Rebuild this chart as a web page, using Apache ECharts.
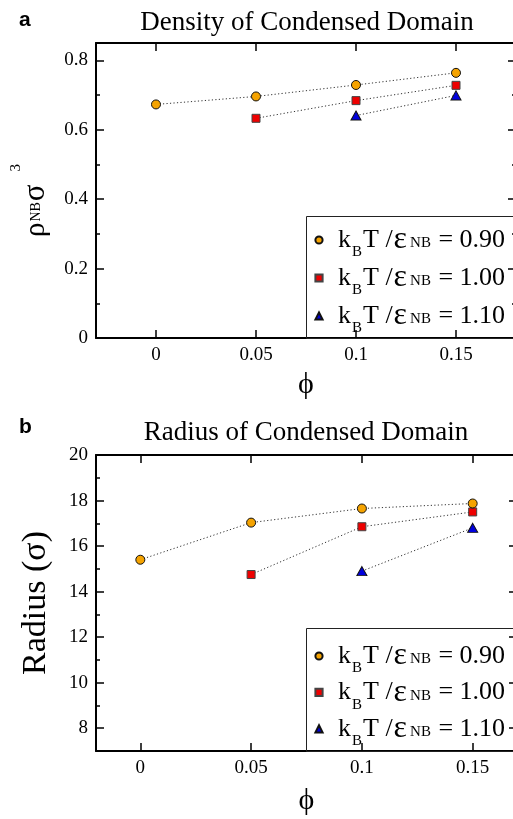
<!DOCTYPE html>
<html><head><meta charset="utf-8">
<script src="https://cdn.jsdelivr.net/npm/echarts@6.0.0/dist/echarts.min.js"></script>
<style>html,body{margin:0;padding:0;background:#fff}#c{width:513px;height:819px}</style>
</head><body><div id="c"></div>
<script>
// ---- data ----
const phi = [0, 0.05, 0.1, 0.15];
const seriesNames = ['0.90', '1.00', '1.10'];
const densityT090 = [0.673, 0.696, 0.729, 0.764];
const densityT100 = [null, 0.633, 0.684, 0.728];
const densityT110 = [null, null, 0.641, 0.699];
const radiusT090 = [15.4, 17.03, 17.65, 17.87];
const radiusT100 = [null, 14.75, 16.85, 17.5];
const radiusT110 = [null, null, 14.9, 16.8];
const xTicks = [0, 0.05, 0.1, 0.15];
const yTicksA = [0, 0.2, 0.4, 0.6, 0.8];
const yMinorA = [0.1, 0.3, 0.5, 0.7];
const yTicksB = [8, 10, 12, 14, 16, 18, 20];
const yMinorB = [9, 11, 13, 15, 17, 19];
const titleA = 'Density of Condensed Domain';
const titleB = 'Radius of Condensed Domain';

// ---- styling ----
const SERIF = '"Liberation Serif", "Times New Roman", serif';
const SANS = '"Liberation Sans", Arial, sans-serif';
const colors = ['#F5A300', '#EE0000', '#0000DD'];
const symbols = ['circle', 'rect', 'triangle'];
const symSizes = [9, 8, [10, 9]];
const borders = ['#111', '#444', '#111'];

function pairs(xs, ys) {
  return xs.map((x, i) => ys[i] == null ? null : [x, ys[i]]).filter(p => p);
}

const axisLine = { show: true, onZero: false, lineStyle: { color: '#000', width: 2 } };
const noLine = { show: false, onZero: false };
const tickStyle = { color: '#000', width: 1.5 };
const labelStyle = { fontFamily: SERIF, fontSize: 19, color: '#000' };

function xMain(grid, min, max, pos, withLabel, nameGap) {
  const a = {
    type: 'value', gridIndex: grid, min: min, max: max, position: pos,
    axisLine: axisLine, splitLine: { show: false },
    axisTick: { show: true, inside: true, length: 8, customValues: xTicks, lineStyle: tickStyle },
    axisLabel: withLabel ? Object.assign({ show: true, margin: 8, customValues: xTicks }, labelStyle) : { show: false }
  };
  if (withLabel) {
    a.name = 'ϕ'; a.nameLocation = 'middle'; a.nameGap = nameGap; a.nameMoveOverlap = false;
    a.nameTextStyle = { fontFamily: SERIF, fontSize: 30, color: '#000' };
  }
  return a;
}
function yAxisDef(grid, min, max, pos, ticks, len, labels, line) {
  return {
    type: 'value', gridIndex: grid, min: min, max: max, position: pos,
    axisLine: line ? axisLine : noLine, splitLine: { show: false },
    axisTick: { show: true, inside: true, length: len, customValues: ticks, lineStyle: tickStyle },
    axisLabel: labels ? Object.assign({ show: true, margin: 8, customValues: labels }, labelStyle) : { show: false }
  };
}

const yA = yAxisDef(0, 0, 0.85, 'left', yTicksA, 8, yTicksA, true);
yA.name = '{r|ρ}{nb|NB}{s|σ}{sup|3}';
yA.nameLocation = 'middle'; yA.nameRotate = 90; yA.nameGap = 33; yA.nameMoveOverlap = false;
yA.nameTextStyle = { color: '#000', fontFamily: SERIF, fontSize: 26, rich: {
  r: { fontFamily: SERIF, fontSize: 29, color: '#000' },
  nb: { fontFamily: SERIF, fontSize: 14, color: '#000', padding: [0, 1, 0, 1] },
  s: { fontFamily: SERIF, fontSize: 31, color: '#000' },
  sup: { fontFamily: SERIF, fontSize: 15, color: '#000', padding: [0, 20, 39, 13] }
}};
const yB = yAxisDef(2, 7, 20, 'left', yTicksB, 8, yTicksB, true);
yB.name = 'Radius (σ)';
yB.nameLocation = 'middle'; yB.nameRotate = 90; yB.nameGap = 43; yB.nameMoveOverlap = false;
yB.nameTextStyle = { color: '#000', fontFamily: SERIF, fontSize: 34 };

const xAxes = [
  xMain(0, -0.03, 0.18, 'bottom', true, 32),
  xMain(0, -0.03, 0.18, 'top', false),
  { type: 'value', gridIndex: 1, min: -0.03, max: 0.18, show: false },
  xMain(2, -0.02, 0.17, 'bottom', true, 35),
  xMain(2, -0.02, 0.17, 'top', false),
  { type: 'value', gridIndex: 3, min: -0.02, max: 0.17, show: false }
];
const yAxes = [
  yA,
  yAxisDef(0, 0, 0.85, 'right', yTicksA, 8, null, true),
  yAxisDef(1, 0, 0.85, 'left', yMinorA, 4, null, false),
  yAxisDef(1, 0, 0.85, 'right', yMinorA, 4, null, false),
  yB,
  yAxisDef(2, 7, 20, 'right', yTicksB, 8, null, true),
  yAxisDef(3, 7, 20, 'left', yMinorB, 4, null, false),
  yAxisDef(3, 7, 20, 'right', yMinorB, 4, null, false)
];

const densityData = [densityT090, densityT100, densityT110];
const radiusData = [radiusT090, radiusT100, radiusT110];
const series = [];
function addSeries(dataList, xi, yi) {
  dataList.forEach((vals, k) => {
    series.push({
      type: 'line', name: seriesNames[k], xAxisIndex: xi, yAxisIndex: yi,
      data: pairs(phi, vals), symbol: symbols[k], symbolSize: symSizes[k],
      showAllSymbol: true, animation: false,
      itemStyle: { color: colors[k], borderColor: borders[k], borderWidth: 1 },
      lineStyle: { color: '#333', width: 1, type: [1.2, 2.3] },
      emphasis: { disabled: true }, z: 3 - k
    });
  });
}
addSeries(densityData, 0, 0);
addSeries(radiusData, 3, 4);

// every rich token padded to the same total height so rows are regular
function legendDef(top, gap) {
  return {
    show: true, orient: 'vertical', left: 304, top: top, padding: 0,
    itemWidth: 28, itemHeight: 9, itemGap: gap, selectedMode: false,
    data: seriesNames, lineStyle: { opacity: 0 },
    formatter: n => '{k|k}{b|B}{k|T /}{e|ε}{nb|NB}{k| = ' + n + '}',
    textStyle: { color: '#000', fontFamily: SERIF, fontSize: 26, rich: {
      k: { fontFamily: SERIF, fontSize: 26, color: '#000', padding: [7, 0, 7, 0] },
      b: { fontFamily: SERIF, fontSize: 15, color: '#000', padding: [25, 1, 0, 1] },
      e: { fontFamily: SERIF, fontSize: 32, color: '#000', padding: [4, 0, 4, 1] },
      nb: { fontFamily: SERIF, fontSize: 15, color: '#000', padding: [16, 1, 9, 3] }
    }}
  };
}

const option = {
  animation: false,
  backgroundColor: '#fff',
  grid: [
    { left: 96, top: 43, width: 420, height: 295, outerBoundsMode: 'none', containLabel: false },
    { left: 96, top: 43, width: 420, height: 295, outerBoundsMode: 'none', containLabel: false },
    { left: 96, top: 455, width: 421, height: 296, outerBoundsMode: 'none', containLabel: false },
    { left: 96, top: 455, width: 421, height: 296, outerBoundsMode: 'none', containLabel: false }
  ],
  xAxis: xAxes,
  yAxis: yAxes,
  legend: [legendDef(224, 2), legendDef(640, 0.4)],
  series: series,
  graphic: [
    { type: 'rect', shape: { x: 306.5, y: 216.5, width: 220, height: 122 }, style: { fill: 'rgba(0,0,0,0)', stroke: '#222', lineWidth: 1 }, z: 1 },
    { type: 'rect', shape: { x: 306.5, y: 628.5, width: 220, height: 123 }, style: { fill: 'rgba(0,0,0,0)', stroke: '#222', lineWidth: 1 }, z: 1 },
    { type: 'text', x: 307, y: 22.5, style: { text: titleA, font: '27px ' + SERIF, fill: '#000', align: 'center', verticalAlign: 'middle', textAlign: 'center', textVerticalAlign: 'middle' } },
    { type: 'text', x: 306, y: 433, style: { text: titleB, font: '27px ' + SERIF, fill: '#000', align: 'center', verticalAlign: 'middle', textAlign: 'center', textVerticalAlign: 'middle' } },
    { type: 'text', x: 19, y: 20.5, style: { text: 'a', font: 'bold 21px ' + SANS, fill: '#000', align: 'left', verticalAlign: 'middle', textAlign: 'left', textVerticalAlign: 'middle' } },
    { type: 'text', x: 19, y: 427, style: { text: 'b', font: 'bold 21px ' + SANS, fill: '#000', align: 'left', verticalAlign: 'middle', textAlign: 'left', textVerticalAlign: 'middle' } }
  ]
};
const chart = echarts.init(document.getElementById('c'), null, { renderer: 'canvas' });
chart.setOption(option);
</script>
</body></html>
